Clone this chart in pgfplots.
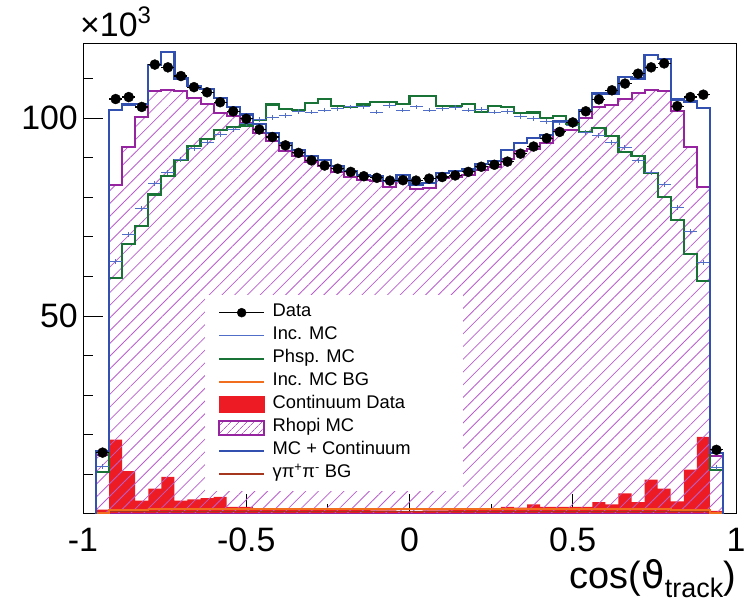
\documentclass[border=0pt]{standalone}
\usepackage{pgfplots}
\pgfplotsset{compat=1.18}
\usepackage{pgfplotstable}
\usepackage{fontspec}
\setmainfont{Liberation Sans}
\newfontfamily\dejavu{DejaVu Sans}
\usetikzlibrary{patterns.meta}
\definecolor{incblue}{RGB}{80,110,200}
\definecolor{phspgreen}{RGB}{25,115,55}
\definecolor{bgorange}{RGB}{240,110,30}
\definecolor{contred}{RGB}{237,28,36}
\definecolor{rhopi}{RGB}{150,35,160}
\definecolor{rhopihatch}{RGB}{185,95,205}
\definecolor{mcblue}{RGB}{50,80,175}
\definecolor{gbrown}{RGB}{165,55,30}

% e = left bin edge; D data; I Inc. MC; G Phsp. MC; O Inc. MC BG; C Continuum; R Rhopi MC; B MC+Continuum; N gamma pi pi BG
\pgfplotstableread{
e      D      I      G      O    C     R      B      N
-0.96  0      0      0      0    0     0      0      0
-0.96  15.5   12.0   10.7   0.3  1.1   14.8   16.0   0.3
-0.92  104.8  63.8   59.7   1.0  18.8  83.2   102.0  0.6
-0.88  105.3  70.6   68.1   1.0  10.8  92.6   103.4  0.6
-0.84  102.8  77.1   72.7   1.0  3.4   100.2  103.6  0.6
-0.80  113.5  83.5   80.7   1.3  6.4   106.8  113.3  0.6
-0.76  112.8  86.2   85.3   1.3  9.4   107.2  116.6  0.6
-0.72  110.6  89.5   89.5   1.3  3.4   106.8  110.0  0.6
-0.68  107.8  92.2   92.9   1.3  3.7   105.0  108.0  0.6
-0.64  106.5  93.9   94.7   1.3  4.0   103.6  107.4  0.6
-0.60  104.0  95.8   96.9   1.3  4.3   101.2  105.1  0.6
-0.56  101.7  97.1   97.8   1.3  1.8   100.5  102.7  0.6
-0.52  99.8   98.5   98.1   1.3  1.8   98.8   100.9  0.6
-0.48  97.1   99.6   99.6   1.3  1.5   96.3   98.4   0.6
-0.44  95.2   100.2  103.4  1.3  1.5   94.1   96.3   0.6
-0.40  93.1   100.7  102.3  1.3  1.3   91.8   93.7   0.6
-0.36  91.2   101.7  102.0  1.3  1.3   90.3   92.0   0.6
-0.32  89.3   101.5  103.8  1.3  1.2   88.9   90.5   0.6
-0.28  88.0   102.0  104.8  1.3  1.2   87.9   89.5   0.6
-0.24  87.2   102.3  103.0  1.3  1.0   86.4   87.8   0.6
-0.20  86.4   102.8  102.8  1.3  1.0   85.2   86.6   0.6
-0.16  85.3   102.8  103.4  1.3  1.0   84.3   85.7   0.6
-0.12  84.9   101.5  104.1  1.3  0.9   84.0   85.3   0.6
-0.08  84.2   103.2  104.1  1.3  0.9   82.7   84.0   0.6
-0.04  84.3   102.0  103.6  1.3  0.8   84.5   85.7   0.6
0.00   84.2   102.8  105.5  1.3  0.8   82.0   83.2   0.6
0.04   84.7   102.0  105.5  1.3  0.9   82.3   83.6   0.6
0.08   85.1   102.3  103.0  1.3  0.9   84.9   86.2   0.6
0.12   85.5   102.6  103.0  1.3  1.0   85.2   86.6   0.6
0.16   86.4   102.0  103.6  1.3  1.0   85.6   87.0   0.6
0.20   87.7   102.1  101.5  1.3  1.1   86.8   88.3   0.6
0.24   88.2   101.5  103.0  1.3  1.1   87.6   89.1   0.6
0.28   89.0   101.7  102.8  1.3  1.8   89.7   91.9   0.6
0.32   91.0   100.4  101.2  1.3  1.6   91.6   93.6   0.6
0.36   92.8   99.9   101.4  1.3  2.4   92.2   95.0   0.6
0.40   94.9   99.2   100.0  1.3  1.8   93.6   95.8   0.6
0.44   96.5   98.8   100.6  1.3  1.8   97.0   99.2   0.6
0.48   98.9   98.0   98.5   1.3  1.8   97.0   99.2   0.6
0.52   101.7  96.4   96.4   1.3  1.8   99.9   102.1  0.6
0.56   104.7  95.6   97.5   1.3  3.0   102.8  106.2  0.6
0.60   107.0  93.9   95.4   1.3  2.4   103.4  106.2  0.6
0.64   108.7  92.5   91.4   1.3  5.2   104.8  110.4  0.6
0.68   111.2  89.3   90.5   1.3  3.0   106.3  110.0  0.6
0.72   112.8  86.3   86.2   1.3  8.7   107.0  116.0  0.6
0.76   113.8  83.2   80.1   1.3  6.4   106.8  115.0  0.6
0.80   103.0  77.5   74.2   1.0  3.2   101.7  104.7  0.6
0.84   105.3  71.3   65.7   1.0  11.2  92.6   104.2  0.6
0.88   105.9  63.6   58.8   1.0  19.5  82.5   102.6  0.6
0.92   16.2   11.7   11.2   0.3  0.8   14.6   15.4   0.3
0.96   16.2   11.7   11.2   0.3  0.8   14.6   15.4   0.3
0.96   0      0      0      0    0     0      0      0
}\tbl

\begin{document}
\begin{tikzpicture}
\path[use as bounding box] (0,0) rectangle (751bp,606bp);
\begin{axis}[
  at={(83bp,92bp)}, anchor=south west,
  scale only axis, width=653bp, height=470bp,
  xmin=-1, xmax=1, ymin=0, ymax=118.7,
  axis line style={black, line width=1bp},
  tick align=inside,
  xtick pos=bottom, ytick pos=left,
  ytick={50,100}, minor ytick={10,20,30,40,60,70,80,90,110},
  xtick={-1,-0.5,0,0.5,1}, xticklabels={-1,-0.5,0,0.5,1},
  minor xtick={-0.75,-0.25,0.25,0.75},
  major tick length=20bp, minor tick length=10bp,
  tick style={black, line width=1bp},
  yticklabel style={font=\fontsize{34}{34}\selectfont, inner sep=0pt, xshift=-5bp},
  xticklabel style={font=\fontsize{34}{34}\selectfont, inner sep=0pt, anchor=north, yshift=-14bp},
  /pgf/number format/assume math mode=true,
  legend style={at={(axis description cs:0.1868,0.466)}, anchor=north west,
    draw=none, fill=white, font=\fontsize{18.4}{22}\selectfont,
    inner xsep=13bp, inner ysep=6bp, row sep=0pt, column sep=6bp,
    nodes={inner sep=1.5bp, text height=14bp, text depth=6bp}},
  legend cell align=left,
  clip=true,
]
% Continuum data (filled)
\addplot[const plot mark left, fill=contred, draw=none, forget plot] table[x=e, y=C] {\tbl} \closedcycle;
% Rhopi MC (hatched)
\addplot[const plot mark left, draw=rhopi, line width=2bp,
  pattern={Lines[angle=45,distance=9bp,line width=0.8bp]}, pattern color=rhopihatch, forget plot] table[x=e, y=R] {\tbl} \closedcycle;
% gamma pi pi BG
\addplot[const plot mark left, draw=gbrown, line width=1.6bp, forget plot] table[x=e, y=N] {\tbl};
% Inc MC BG
\addplot[const plot mark left, draw=bgorange, line width=1.6bp, forget plot] table[x=e, y=O] {\tbl};
% Phsp MC
\addplot[const plot mark left, draw=phspgreen, line width=2.2bp, forget plot] table[x=e, y=G] {\tbl};
% Inc MC crosses
\addplot[draw=none, mark=none, forget plot,
  restrict expr to domain={\coordindex}{1:48},
  error bars/.cd, x dir=both, x fixed=0.02, y dir=both, y fixed=0.6,
  error mark=none, error bar style={incblue, line width=1bp}]
  table[x expr=\thisrow{e}+0.02, y=I] {\tbl};
% MC + Continuum
\addplot[const plot mark left, draw=mcblue, line width=2.2bp, forget plot] table[x=e, y=B] {\tbl};
% Data
\addplot[only marks, mark=*, mark size=5bp, black, forget plot,
  restrict expr to domain={\coordindex}{1:48},
  error bars/.cd, x dir=both, x fixed=0.02, error mark=none,
  error bar style={black, line width=1.2bp}]
  table[x expr=\thisrow{e}+0.02, y=D] {\tbl};

\addlegendimage{legend image code/.code={\draw[black,line width=1.2bp] (0bp,0bp)--(45bp,0bp); \fill[black] (22.5bp,0bp) circle (4.5bp);}}
\addlegendentry{Data}
\addlegendimage{legend image code/.code={\draw[incblue,line width=1bp] (0bp,0bp)--(45bp,0bp);}}
\addlegendentry{Inc. MC}
\addlegendimage{legend image code/.code={\draw[phspgreen,line width=2bp] (0bp,0bp)--(45bp,0bp);}}
\addlegendentry{Phsp. MC}
\addlegendimage{legend image code/.code={\draw[bgorange,line width=2bp] (0bp,0bp)--(45bp,0bp);}}
\addlegendentry{Inc. MC BG}
\addlegendimage{legend image code/.code={\fill[contred] (0bp,-8bp) rectangle (45bp,8bp);}}
\addlegendentry{\makebox[176bp][l]{Continuum Data}}
\addlegendimage{legend image code/.code={\draw[rhopi,line width=1.8bp,pattern={Lines[angle=45,distance=6bp,line width=0.7bp]},pattern color=rhopihatch] (0bp,-7bp) rectangle (45bp,7bp);}}
\addlegendentry{Rhopi MC}
\addlegendimage{legend image code/.code={\draw[mcblue,line width=2bp] (0bp,0bp)--(45bp,0bp);}}
\addlegendentry{MC + Continuum}
\addlegendimage{legend image code/.code={\draw[gbrown,line width=2bp] (0bp,0bp)--(45bp,0bp);}}
\addlegendentry{γπ\textsuperscript{+}π\textsuperscript{-} BG}
\end{axis}
\node[anchor=base west, inner sep=0pt, font=\fontsize{34}{34}\selectfont] at (80bp,569bp) {×10\raisebox{0.4em}{\fontsize{24}{24}\selectfont 3}};
\node[anchor=base east, inner sep=0pt, font=\fontsize{38}{38}\selectfont] at (736bp,18bp) {cos({\dejavu ϑ}\raisebox{-0.26em}{\fontsize{27}{27}\selectfont track})};
\end{tikzpicture}
\end{document}
